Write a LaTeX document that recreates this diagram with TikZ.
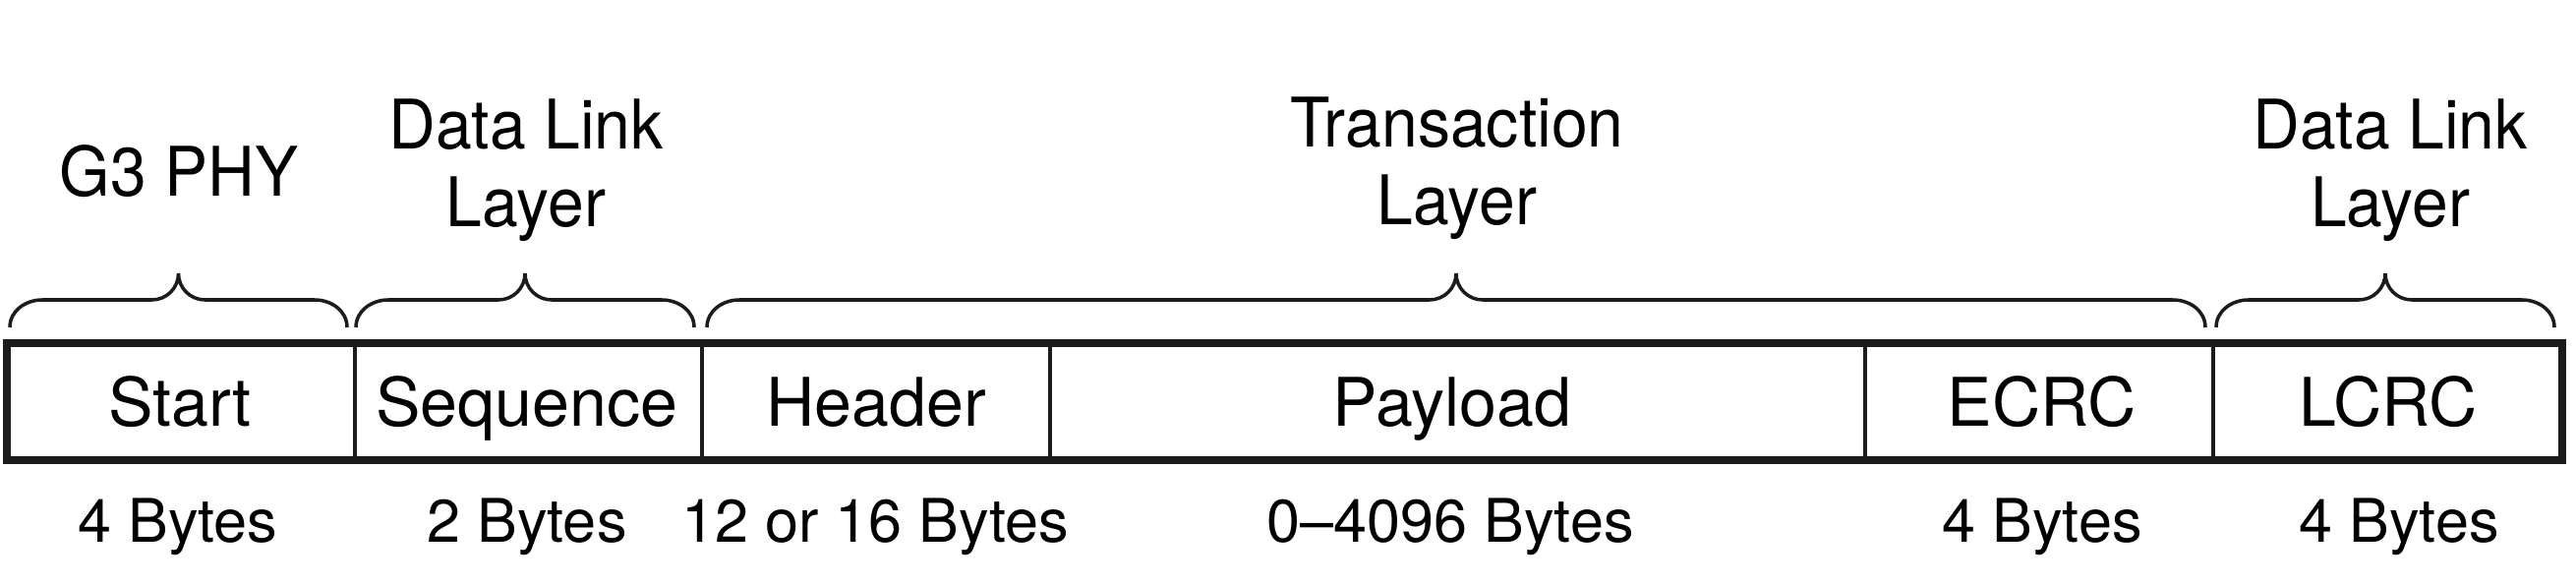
\documentclass[tikz,border=0pt]{standalone}
\usepackage{fontspec}
\setmainfont{TeX Gyre Heros}
\newfontfamily\layerfont{TeX Gyre Heros}[FakeStretch=0.95]
\definecolor{ink}{RGB}{28,28,28}

\begin{document}
\begin{tikzpicture}[
        frame/.style={ink, line width=2.1pt},
        divider/.style={ink, line width=0.95pt},
        bracket/.style={ink, line width=1pt},
        field/.style={inner sep=0, anchor=base, font=\fontsize{19.4}{23}\selectfont},
        size/.style={inner sep=0, anchor=base, font=\fontsize{17.4}{21}\selectfont},
        layer/.style={inner sep=0, anchor=north, align=center, font=\layerfont\fontsize{19.8}{22.5}\selectfont},
    ]
        \useasboundingbox (0, 0) rectangle (26.2, 5.94);

        \draw[frame] (0.07, 1.26) rectangle (26.06, 2.45);
        \foreach \x in {3.61, 7.14, 10.68, 18.97, 22.51}
            \draw[divider] (\x, 1.26) -- (\x, 2.45);

        \node[field] (start) at (1.83, 1.61) {Start};
        \node[field] (sequence) at (5.36, 1.61) {Sequence};
        \node[field] (header) at (8.91, 1.61) {Header};
        \node[field] (payload) at (14.77, 1.61) {Payload};
        \node[field] (ecrc) at (20.77, 1.61) {ECRC};
        \node[field] (lcrc) at (24.29, 1.61) {LCRC};

        \node[size] (startsize) at (1.81, 0.43) {4 Bytes};
        \node[size] (seqsize) at (5.36, 0.43) {2 Bytes};
        \node[size] (headersize) at (8.90, 0.43) {12 or 16 Bytes};
        \node[size] (payloadsize) at (14.75, 0.43) {0--4096 Bytes};
        \node[size] (ecrcsize) at (20.77, 0.43) {4 Bytes};
        \node[size] (lcrcsize) at (24.40, 0.43) {4 Bytes};

        % braces over the fields
        \foreach \a/\b in {0.10/3.53, 3.62/7.06, 7.19/22.43, 22.54/25.98} {
            \pgfmathsetmacro\m{(\a+\b)/2}
            \draw[bracket] (\a, 2.61) to[out=90, in=180] ({\a+0.33}, 2.89)
                -- ({\m-0.27}, 2.89) to[out=0, in=-90] (\m, 3.16)
                to[out=-90, in=180] ({\m+0.27}, 2.89)
                -- ({\b-0.33}, 2.89) to[out=0, in=90] (\b, 2.61);
        }

        \node[layer] (phy) at (1.82, 4.47) {G3 PHY};
        \node[layer] (dll1) at (5.35, 4.94) {Data Link\\Layer};
        \node[layer] (tl) at (14.82, 4.96) {Transaction\\Layer};
        \node[layer] (dll2) at (24.31, 4.94) {Data Link\\Layer};
    \end{tikzpicture}
\end{document}
